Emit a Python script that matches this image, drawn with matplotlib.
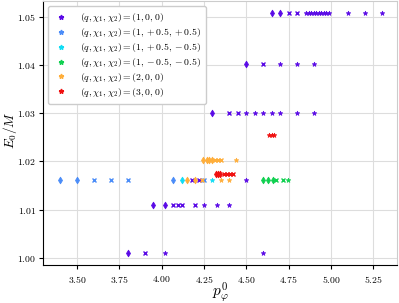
import numpy as np
import matplotlib.pyplot as plt
from matplotlib.ticker import FuncFormatter

plt.rcParams['mathtext.fontset'] = 'cm'
plt.rcParams['font.family'] = 'serif'
plt.rcParams['font.serif'] = ['DejaVu Serif']

# (q, chi1, chi2) = (1, 0, 0)
p100_x = [4.65, 4.70, 4.75, 4.80, 4.85, 4.87, 4.88, 4.90, 4.91, 4.93, 4.94, 4.96, 4.97, 4.99, 5.10, 5.20, 5.30,
          4.50, 4.60, 4.70, 4.80, 4.90,
          4.30, 4.40, 4.45, 4.50, 4.55, 4.60, 4.65, 4.70, 4.80, 4.90,
          3.95, 4.02, 4.07, 4.095, 4.12, 4.20, 4.25, 4.325, 4.40,
          4.18, 4.22, 4.50,
          3.80, 3.90, 4.02, 4.60]
p100_y = [1.0508] * 17 + [1.0403] * 5 + [1.0301] * 10 + [1.011] * 9 + [1.0162] * 3 + [1.001] * 4
p100_m = ['d', 'd', 'x', 'x'] + ['*'] * 13 + \
         ['d', 'x', '*', '*', '*'] + \
         ['d', 'x', 'x', '*', '*', '*', '*', '*', '*', '*'] + \
         ['d', 'd', 'x', 'x', 'x', 'x', '*', '*', '*'] + \
         ['x', 'x', '*'] + \
         ['d', 'x', '*', '*']

# (1, +0.5, +0.5)
p1pp_x = [3.40, 3.50, 3.60, 3.70, 3.80, 4.07, 4.25]
p1pp_y = [1.0162] * 7
p1pp_m = ['d', 'd', 'x', 'x', 'x', 'd', 'x']

# (1, +0.5, -0.5)
p1pm_x = [4.12, 4.30]
p1pm_y = [1.0162] * 2
p1pm_m = ['d', '*']

# (1, -0.5, -0.5)
p1mm_x = [4.60, 4.63, 4.655, 4.675, 4.715, 4.745]
p1mm_y = [1.0162] * 6
p1mm_m = ['d', 'd', 'd', 'x', 'x', '*']

# (2, 0, 0)
p200_x = [4.245, 4.265, 4.28, 4.295, 4.315, 4.33, 4.35, 4.44,
          4.15, 4.20, 4.24, 4.35, 4.40]
p200_y = [1.0202] * 8 + [1.0162] * 5
p200_m = ['d', 'd', 'd', 'd', 'x', 'x', 'x', '*',
          'd', 'd', 'x', '*', '*']

# (3, 0, 0)
p300_x = [4.32, 4.335, 4.347, 4.367, 4.387, 4.405, 4.42,
          4.635, 4.65, 4.665]
p300_y = [1.0173] * 7 + [1.0254] * 3
p300_m = ['d', 'd', 'd', 'x', 'x', 'x', 'x', '*', '*', '*']

series = [
    (p100_x, p100_y, p100_m, '#5a0ae6', r'$(q,\chi_1,\chi_2)=(1,0,0)$'),
    (p1pp_x, p1pp_y, p1pp_m, '#4a8cf8', r'$(q,\chi_1,\chi_2)=(1,+0.5,+0.5)$'),
    (p1pm_x, p1pm_y, p1pm_m, '#10ddf5', r'$(q,\chi_1,\chi_2)=(1,+0.5,-0.5)$'),
    (p1mm_x, p1mm_y, p1mm_m, '#10d050', r'$(q,\chi_1,\chi_2)=(1,-0.5,-0.5)$'),
    (p200_x, p200_y, p200_m, '#ffae3a', r'$(q,\chi_1,\chi_2)=(2,0,0)$'),
    (p300_x, p300_y, p300_m, '#f01010', r'$(q,\chi_1,\chi_2)=(3,0,0)$'),
]

fig = plt.figure(figsize=(3.99, 3.03), dpi=100)
ax = fig.add_axes([0.108, 0.125, 0.887, 0.872])

for xs, ys, ms, color, label in series:
    for x, y, m in zip(xs, ys, ms):
        ax.plot(x, y, marker=m, color=color, markersize=3.5,
                markeredgewidth=1.0 if m == 'x' else 0.5, linestyle='none')
    ax.plot([], [], marker='*', color=color, markersize=3.5, linestyle='none', label=label)

ax.set_xlim(3.30, 5.39)
ax.set_ylim(0.9985, 1.0533)
ax.set_xticks([3.50, 3.75, 4.00, 4.25, 4.50, 4.75, 5.00, 5.25])
ax.set_yticks([1.00, 1.01, 1.02, 1.03, 1.04, 1.05])
ax.xaxis.set_major_formatter(FuncFormatter(lambda v, p: f'${v:.2f}$'))
ax.yaxis.set_major_formatter(FuncFormatter(lambda v, p: f'${v:.2f}$'))
ax.tick_params(labelsize=7, length=3, width=0.8)
ax.tick_params(axis='y', pad=2)
ax.grid(True, color='#dddddd', linewidth=0.8)
ax.set_axisbelow(True)
for side in ['top', 'right']:
    ax.spines[side].set_color('#cccccc')
ax.set_xlabel(r'$p_\varphi^0$', fontsize=11)
ax.set_ylabel(r'$E_0/M$', fontsize=9.5)
ax.xaxis.set_label_coords(0.5, -0.055)
ax.yaxis.set_label_coords(-0.068, 0.51)

ax.legend(loc='upper left', fontsize=7, handletextpad=1.2, borderpad=0.55, labelspacing=0.2,
          handlelength=1.5, framealpha=1.0, edgecolor='#cccccc')

fig.savefig('out.png', dpi=100)
